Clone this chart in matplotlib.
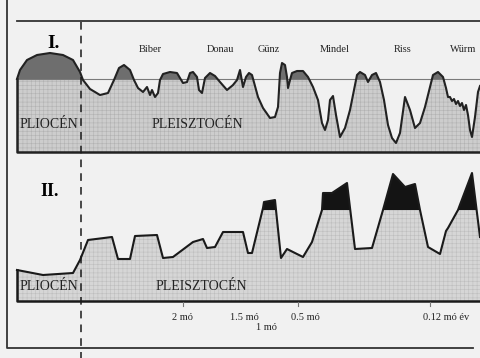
import matplotlib
matplotlib.use("Agg")
import matplotlib.pyplot as plt
import numpy as np

# ---- Data (diagram units: horizontal position, level; smaller level = higher) ----
# Panel I: sea level curve
curve1_x = [17, 20, 27, 37, 50, 63, 73, 80, 83, 90, 100, 108, 114, 119, 124, 130, 134, 138,
            143, 147, 150, 152, 155, 158, 160, 163, 170, 177, 180, 183, 187, 190, 193, 197,
            199, 202, 205, 210, 215, 220, 227, 233, 237, 240, 243, 246, 249, 252, 258, 263,
            270, 275, 278, 280, 282, 285, 287, 288, 290, 292, 297, 303, 308, 313, 318, 322,
            325, 328, 330, 333, 336, 340, 345, 350, 355, 357, 360, 365, 368, 372, 376, 380,
            384, 388, 392, 396, 400, 405, 410, 415, 420, 425, 430, 433, 438, 443, 446, 448,
            450, 452, 454, 456, 458, 460, 462, 464, 466, 468, 470, 472, 475, 478, 480]
curve1_y = [79, 70, 60, 55, 53, 55, 60, 72, 80, 89, 95, 93, 80, 68, 65, 70, 80, 88,
            92, 87, 95, 90, 97, 93, 80, 74, 72, 73, 78, 83, 82, 73, 72, 77,
            90, 93, 78, 73, 76, 82, 90, 85, 80, 70, 87, 77, 73, 75, 97, 108,
            118, 117, 107, 73, 63, 65, 77, 88, 80, 73, 71, 71, 77, 87, 100, 123,
            130, 120, 100, 96, 115, 137, 128, 110, 85, 75, 72, 75, 82, 75, 73, 82,
            100, 125, 138, 143, 133, 97, 110, 128, 123, 107, 87, 75, 72, 77, 88, 97,
            97, 101, 99, 104, 101, 106, 103, 110, 105, 115, 130, 137, 117, 92, 86]

# Panel II: climate / temperature curve
curve2_x = [17, 43, 73, 80, 88, 112, 118, 130, 135, 157, 163, 173, 193, 203, 207, 215, 223,
            243, 248, 252, 263, 264, 275, 276, 281, 287, 303, 312, 322, 323, 332, 347, 355,
            372, 383, 393, 405, 415, 420, 428, 440, 446, 448, 458, 472, 480]
curve2_y = [270, 275, 273, 260, 240, 237, 259, 259, 236, 235, 258, 257, 242, 239, 248, 247, 232,
            232, 253, 253, 208, 202, 200, 210, 258, 249, 257, 242, 210, 193, 193, 183, 249,
            248, 210, 174, 187, 184, 210, 247, 254, 231, 228, 210, 173, 237]

stage_names = ["Biber", "Donau", "Günz", "Mindel", "Riss", "Würm"]
stage_pos = [150, 220, 269, 335, 403, 463]

age_labels = ["2 mó", "1.5 mó", "0.5 mó", "0.12 mó év"]
age_pos = [182, 244, 305, 446]
age_ticks = [183, 298, 430]

# ---- Figure ----
plt.rcParams['hatch.linewidth'] = 0.4
fig = plt.figure(figsize=(4.8, 3.58), dpi=100, facecolor='#f1f1f1')
ax = fig.add_axes([0, 0, 1, 1])
ax.set_xlim(0, 480)
ax.set_ylim(358, 0)
ax.axis('off')
ax.set_facecolor('#f1f1f1')

serif = 'Liberation Serif'

c1x = np.array(curve1_x, float)
c1y = np.array(curve1_y, float)
c2x = np.array(curve2_x, float)
c2y = np.array(curve2_y, float)

# Panel I
base1, bottom1 = 79, 152
ax.fill_between(c1x, c1y, bottom1, facecolor='#cdcdcd', edgecolor='#b2b2b2',
                hatch='++++', linewidth=0, zorder=1)
ax.fill_between(c1x, c1y, base1, where=c1y < base1, interpolate=True,
                facecolor='#6e6e6e', linewidth=0, zorder=2)
ax.plot([17, 480], [base1, base1], color='#7a7a7a', lw=0.8, zorder=3)
ax.plot(c1x, c1y, color='#222222', lw=1.5, solid_joinstyle='round', zorder=4)
ax.plot([17, 17, 480], [base1, bottom1, bottom1], color='#222222', lw=1.8, zorder=4)

# Panel II
base2, bottom2 = 210, 301
ax.fill_between(c2x, c2y, bottom2, facecolor='#d6d6d6', edgecolor='#bebebe',
                hatch='++++', linewidth=0, zorder=1)
ax.fill_between(c2x, c2y, base2, where=c2y < base2, interpolate=True,
                facecolor='#141414', linewidth=0, zorder=2)
ax.plot(c2x, c2y, color='#1a1a1a', lw=1.5, zorder=4)
ax.plot([17, 17, 480], [c2y[0], bottom2, bottom2], color='#1a1a1a', lw=1.8, zorder=4)

# Frame lines
ax.plot([17, 480], [21, 21], color='#333333', lw=1.3, zorder=4)
ax.plot([7, 7, 473], [0, 348, 348], color='#333333', lw=1.3, zorder=4)
ax.plot([81, 81], [22, 358], color='#1a1a1a', lw=1.1, ls=(0, (5, 4)), zorder=5)

# Age ticks
for t in age_ticks:
    ax.plot([t, t], [302, 306], color='#777777', lw=0.8, zorder=4)

# Texts
ax.text(54, 43, "I.", fontsize=14, fontweight='bold', family=serif,
        ha='center', va='center', zorder=6)
ax.text(50, 192, "II.", fontsize=13, fontweight='bold', family=serif,
        ha='center', va='center', zorder=6)
for name, p in zip(stage_names, stage_pos):
    ax.text(p, 49, name, fontsize=7.5, family=serif, ha='center', va='center',
            color='#222222', zorder=6)
for y, cx in ((124, 197), (286, 201)):
    ax.text(20, y, "PLIOCÉN", fontsize=10, family=serif, ha='left', va='center',
            color='#222222', zorder=6)
    ax.text(cx, y, "PLEISZTOCÉN", fontsize=10, family=serif, ha='center',
            va='center', color='#222222', zorder=6)
for lab, p in zip(age_labels, age_pos):
    ax.text(p, 317, lab, fontsize=7.5, family=serif, ha='center', va='center',
            color='#222222', zorder=6)
ax.text(266, 328, "1 mó", fontsize=7.5, family=serif, ha='center', va='center',
        color='#222222', zorder=6)

fig.savefig('out.png', dpi=100, facecolor=fig.get_facecolor())
